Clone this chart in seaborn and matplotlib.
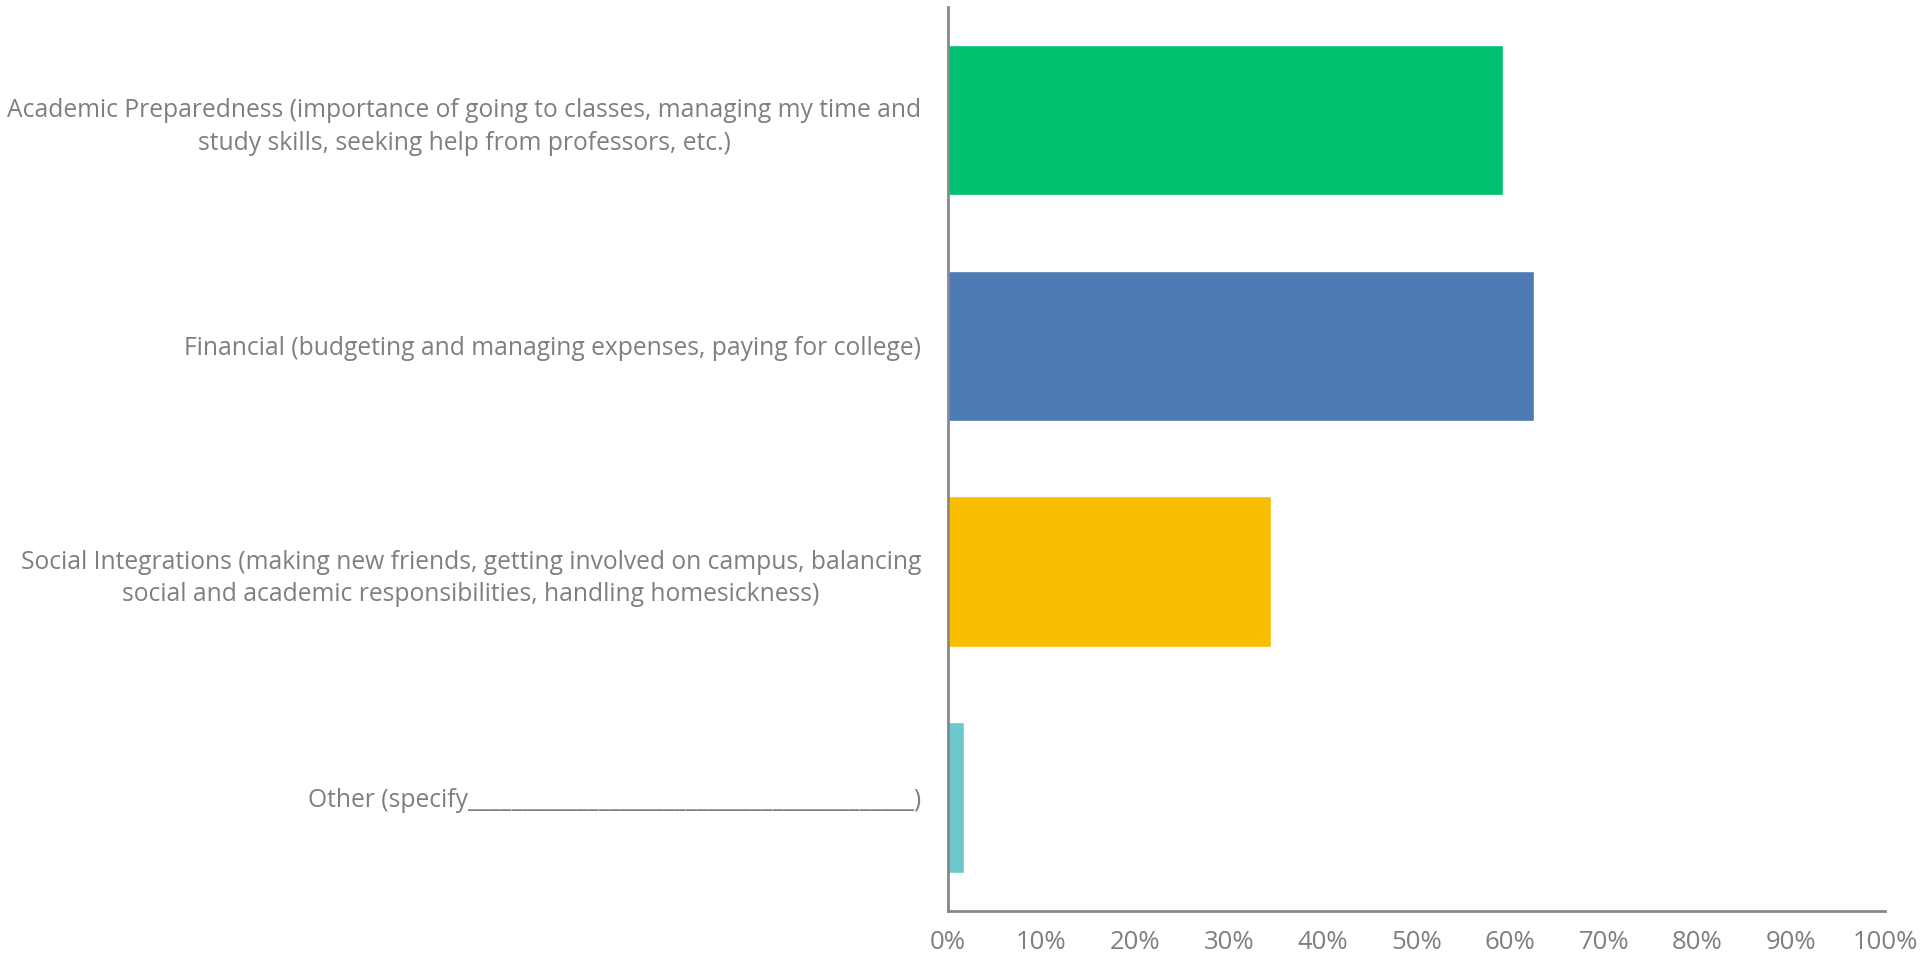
import seaborn as sns
import matplotlib.pyplot as plt
from matplotlib.ticker import FixedLocator

# ----------------------------
# DATA
# ----------------------------
categories = [
    "Academic Preparedness (importance of going to classes, managing my time and\nstudy skills, seeking help from professors, etc.)",
    "Financial (budgeting and managing expenses, paying for college)",
    "Social Integrations (making new friends, getting involved on campus, balancing\nsocial and academic responsibilities, handling homesickness)",
    "Other (specify_________________________________________)",
]
values = [59.2, 62.5, 34.5, 1.7]
colors = ["#00BF6F", "#4E7BB4", "#F9BE00", "#6BC8CD"]
x_ticks = list(range(0, 101, 10))
x_labels = [f"{t}%" for t in x_ticks]

# ----------------------------
# STYLE
# ----------------------------
sns.set_style("white")
plt.rcParams["font.family"] = ["Open Sans", "DejaVu Sans"]
GRAY = "#878787"
TEXT = "#7f7f7f"

fig = plt.figure(figsize=(19.21, 9.58), dpi=100)
ax = fig.add_axes([0.4933, 0.0494, 0.4880, 0.9433])

sns.barplot(x=values, y=categories, hue=categories, palette=colors,
            legend=False, orient="h", width=0.667, saturation=1, ax=ax)

ax.set_xlim(0, 100)
ax.set_ylim(3.5, -0.5)
ax.set_xlabel("")
ax.set_ylabel("")

# x axis
ax.set_xticks(x_ticks)
ax.set_xticklabels(x_labels, fontsize=18.5, color=TEXT)
ax.tick_params(axis="x", direction="out", length=6, width=2, color=GRAY, pad=8)

# y axis: ticks at category boundaries, labels at centres
ax.yaxis.set_major_locator(FixedLocator([-0.5, 0.5, 1.5, 2.5, 3.5]))
ax.yaxis.set_minor_locator(FixedLocator([0, 1, 2, 3]))
ax.set_yticklabels([], minor=False)
ax.set_yticklabels(categories, minor=True, fontsize=17.7, color=TEXT,
                   multialignment="center", linespacing=1.4)
ax.tick_params(axis="y", which="major", direction="out", length=6, width=2, color=GRAY)
ax.tick_params(axis="y", which="minor", length=0, pad=19)

for side in ["top", "right"]:
    ax.spines[side].set_visible(False)
for side in ["left", "bottom"]:
    ax.spines[side].set_color(GRAY)
    ax.spines[side].set_linewidth(2)

fig.savefig("out.png", dpi=100)
plt.close(fig)
